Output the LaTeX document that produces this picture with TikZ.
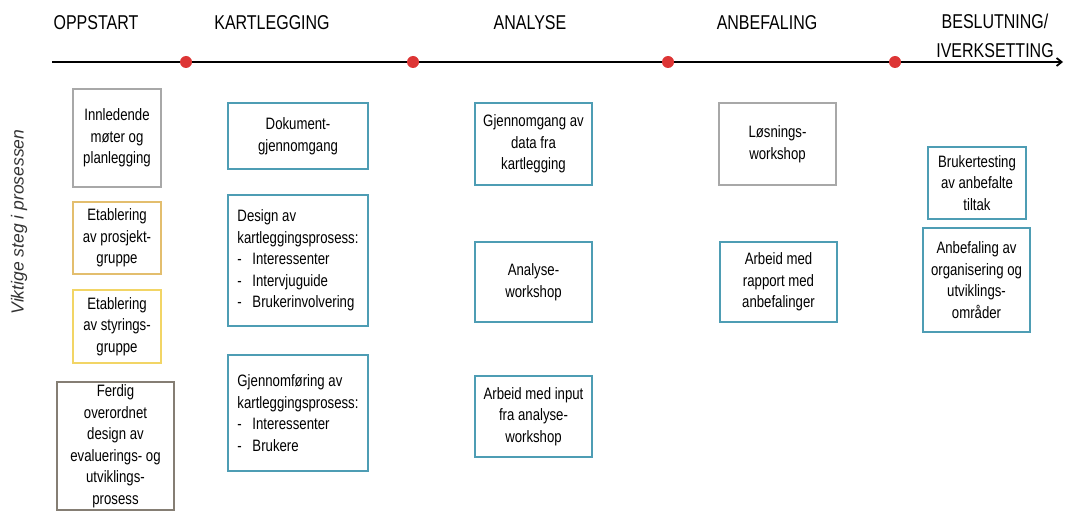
\documentclass[tikz,border=0pt]{standalone}
\usepackage{fontspec}
\setmainfont{Liberation Sans}[FakeStretch=0.8]
\newfontfamily\sidefont{Liberation Sans}
\usepackage{tikz}
\usetikzlibrary{positioning,arrows.meta}
\definecolor{steggray}{HTML}{A8A8A8}
\definecolor{stegdark}{HTML}{857E74}
\definecolor{stegblue}{HTML}{4E9DB4}
\definecolor{stegorange}{HTML}{E3BE6E}
\definecolor{stegyellow}{HTML}{F2D565}
\definecolor{milered}{HTML}{DD3535}
\tikzstyle{phase} = [font=\fontsize{20}{28.5}\selectfont, align=center, inner sep=0pt]
\tikzstyle{steg} = [rectangle, draw, line width=1.2pt, inner sep=0pt, align=center, font=\fontsize{16.5}{21.5}\selectfont]
\tikzstyle{mile} = [circle, fill=milered, minimum size=12pt, inner sep=0pt]
\tikzstyle{timeline} = [line width=1.8pt, -{Straight Barb[length=5pt,width=8pt]}]
\newcommand{\punkt}{\makebox[15pt][l]{-}}

\begin{document}
\begin{tikzpicture}[x=1pt, y=-1pt]
	\useasboundingbox (0,0) rectangle (1067,513);
	% faser
	\node (oppstart) [phase, anchor=base] at (96,30) {OPPSTART};
	\node (kartlegging) [phase, anchor=base] at (272,30) {KARTLEGGING};
	\node (analyse) [phase, anchor=base] at (530,30) {ANALYSE};
	\node (anbefaling) [phase, anchor=base] at (767,30) {ANBEFALING};
	\node (beslutning) [phase] at (995,36) {BESLUTNING/\\IVERKSETTING};
	
	% tidslinje
	\coordinate (tstart) at (52,62);
	\coordinate (tend) at (1063,62);
	\draw [timeline] (tstart) -- (tend);
	\node (m1) [mile] at (186,62) {};
	\node (m2) [mile] at (413,62) {};
	\node (m3) [mile] at (668,62) {};
	\node (m4) [mile] at (895,62) {};
	
	\node (viktige) [rotate=90, font=\sidefont\itshape\fontsize{17.5}{20}\selectfont, text=black!80] at (19,222) {Viktige steg i prosessen};
	
	% oppstart
	\node (innledende) [steg, draw=steggray, minimum width=88, minimum height=98] at (117,138) {Innledende\\møter og\\planlegging};
	\node (prosjekt) [steg, draw=stegorange, minimum width=88, minimum height=72] at (117,238) {Etablering\\av prosjekt-\\gruppe};
	\node (styring) [steg, draw=stegyellow, minimum width=88, minimum height=73] at (117,326.5) {Etablering\\av styrings-\\gruppe};
	\node (ferdig) [steg, draw=stegdark, minimum width=117, minimum height=128] at (115.5,446) {Ferdig\\overordnet\\design av\\evaluerings- og\\utviklings-\\prosess};
	
	% kartlegging
	\node (dokument) [steg, draw=stegblue, minimum width=140, minimum height=66] at (298,136) {Dokument-\\gjennomgang};
	\node (design) [steg, draw=stegblue, minimum width=140, minimum height=131, align=left] at (298,260.5) {Design av\\kartleggingsprosess:\\\punkt Interessenter\\\punkt Intervjuguide\\\punkt Brukerinvolvering};
	\node (gjennomforing) [steg, draw=stegblue, minimum width=140, minimum height=116, align=left] at (298,413) {Gjennomføring av\\kartleggingsprosess:\\\punkt Interessenter\\\punkt Brukere};
	
	% analyse
	\node (gjennomgang) [steg, draw=stegblue, minimum width=117, minimum height=82] at (533.5,144) {Gjennomgang av\\data fra\\kartlegging};
	\node (analysews) [steg, draw=stegblue, minimum width=117, minimum height=80] at (533.5,282) {Analyse-\\workshop};
	\node (input) [steg, draw=stegblue, minimum width=117, minimum height=81] at (533.5,416.5) {Arbeid med input\\fra analyse-\\workshop};
	
	% anbefaling
	\node (losning) [steg, draw=steggray, minimum width=117, minimum height=82] at (777.5,144) {Løsnings-\\workshop};
	\node (rapport) [steg, draw=stegblue, minimum width=117, minimum height=80] at (778.5,282) {Arbeid med\\rapport med\\anbefalinger};
	
	% beslutning
	\node (brukertest) [steg, draw=stegblue, minimum width=98, minimum height=72] at (977,183) {Brukertesting\\av anbefalte\\tiltak};
	\node (organisering) [steg, draw=stegblue, minimum width=107, minimum height=104] at (976.5,280) {Anbefaling av\\organisering og\\utviklings-\\områder};
\end{tikzpicture}
\end{document}
